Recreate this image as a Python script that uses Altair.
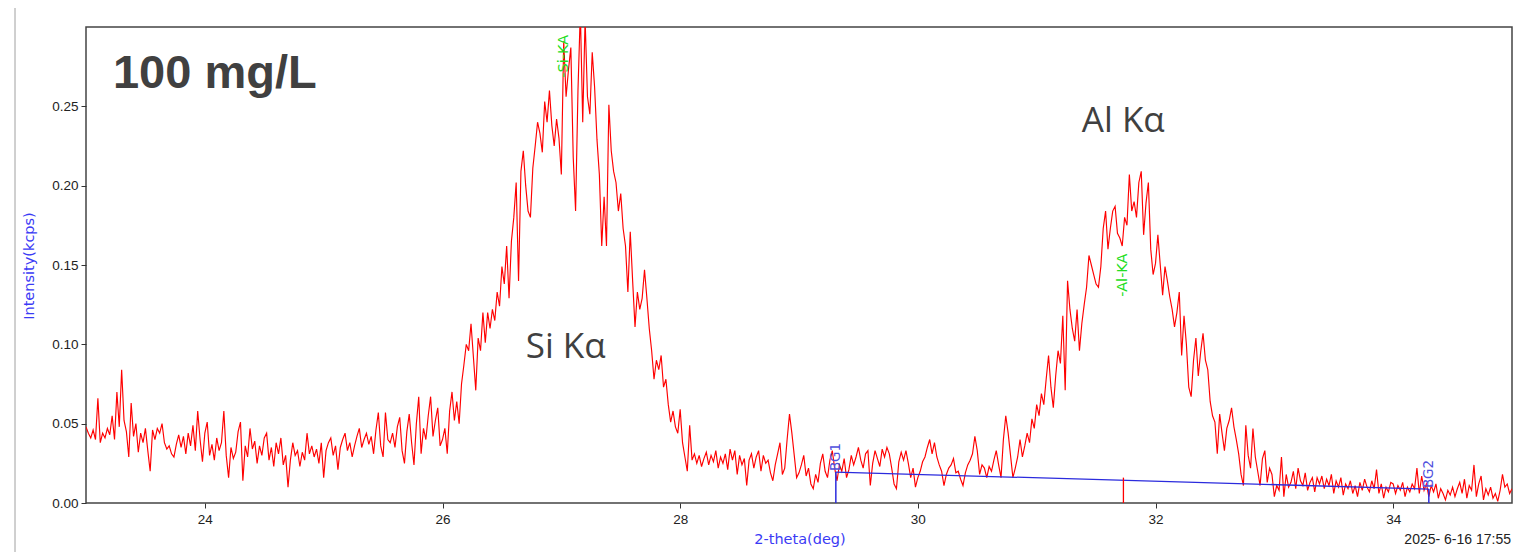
import altair as alt
import numpy as np
import pandas as pd

# XRF scan: 2-theta grid and measured intensity (cps), one row per degree
two_theta_start = 23.0
two_theta_step = 0.02
intensity_cps = [
    48, 44, 41, 46, 40, 66, 38, 44, 41, 47, 43, 55, 40, 70, 48, 84, 52, 45, 29, 63, 42, 50, 32, 44, 38, 47, 33, 20, 46, 40, 47, 44, 50, 38, 34, 36, 31, 29, 37, 43, 35, 42, 31, 44, 36, 49, 33, 58, 40, 26,
    44, 51, 30, 37, 27, 41, 33, 38, 58, 30, 16, 35, 28, 32, 45, 51, 14, 36, 29, 47, 34, 39, 25, 36, 30, 41, 44, 27, 35, 23, 38, 31, 41, 24, 30, 10, 27, 38, 30, 33, 23, 32, 27, 44, 31, 36, 29, 34, 25, 38,
    16, 33, 38, 41, 30, 36, 21, 35, 40, 44, 33, 38, 29, 36, 42, 47, 35, 40, 44, 37, 42, 31, 46, 57, 36, 29, 57, 40, 38, 44, 35, 48, 54, 33, 25, 45, 56, 38, 24, 50, 67, 31, 47, 40, 55, 67, 42, 52, 60, 36,
    40, 47, 31, 58, 70, 52, 64, 50, 75, 87, 100, 96, 113, 92, 71, 104, 96, 120, 101, 120, 110, 122, 115, 133, 124, 149, 138, 162, 129, 165, 180, 202, 140, 209, 222, 200, 184, 180, 211, 225, 240, 233, 221, 253, 240, 260, 238, 225, 242, 230,
    207, 291, 256, 273, 287, 218, 184, 260, 310, 240, 305, 256, 245, 284, 262, 229, 207, 162, 193, 162, 251, 222, 209, 202, 184, 195, 173, 162, 133, 171, 140, 111, 133, 122, 129, 147, 129, 110, 96, 78, 90, 84, 93, 73, 78, 62, 51, 58, 48, 44,
    59, 38, 29, 20, 49, 27, 31, 25, 30, 23, 28, 32, 24, 30, 26, 33, 22, 29, 25, 31, 21, 34, 27, 33, 18, 30, 24, 28, 11, 27, 31, 22, 29, 33, 20, 30, 25, 27, 19, 14, 24, 31, 38, 18, 22, 40, 56, 44, 30, 16,
    19, 24, 30, 17, 22, 12, 9, 18, 13, 25, 31, 20, 16, 27, 33, 22, 14, 24, 20, 28, 16, 21, 30, 24, 29, 35, 27, 22, 31, 33, 11, 25, 33, 28, 23, 34, 29, 35, 31, 22, 12, 9, 26, 32, 27, 33, 25, 16, 22, 10,
    16, 20, 26, 29, 35, 40, 31, 38, 29, 24, 20, 11, 18, 22, 24, 28, 19, 20, 15, 11, 19, 24, 27, 31, 42, 33, 18, 24, 22, 16, 23, 20, 27, 33, 24, 16, 40, 55, 44, 30, 16, 22, 29, 40, 29, 36, 44, 38, 53, 47,
    62, 55, 69, 62, 78, 93, 73, 60, 80, 96, 88, 118, 71, 140, 122, 110, 102, 122, 96, 113, 125, 136, 156, 150, 144, 138, 136, 149, 173, 184, 160, 173, 184, 187, 170, 167, 162, 180, 175, 207, 184, 190, 180, 202, 209, 169, 189, 202, 160, 144,
    151, 169, 150, 131, 149, 140, 130, 122, 111, 120, 133, 93, 118, 100, 73, 67, 90, 104, 80, 95, 107, 90, 84, 64, 55, 51, 31, 56, 44, 33, 47, 52, 60, 48, 40, 31, 18, 11, 49, 30, 22, 47, 29, 20, 11, 28, 33, 13, 22, 18,
    4, 11, 8, 29, 4, 18, 10, 13, 20, 9, 22, 14, 11, 19, 8, 13, 16, 7, 16, 12, 17, 9, 15, 11, 18, 6, 14, 10, 16, 5, 12, 9, 14, 6, 11, 4, 13, 8, 15, 10, 7, 14, 9, 21, 6, 12, 3, 10, 7, 13,
    12, 6, 11, 8, 13, 4, 10, 7, 12, 9, 22, 6, 17, 8, 12, 4, 11, 7, 12, 3, 9, 6, 2, 8, 5, 10, 4, 9, 13, 6, 15, 3, 11, 8, 24, 4, 12, 17, 2, 9, 5, 10, 3, 6, 1, 8, 18, 10, 12, 6,
    9,
]

# background points and line markers
bg_names = ["BG1", "BG2"]
bg_two_theta = [29.31, 34.30]
bg_intensity = [0.0195, 0.0088]

peak_names = ["-Si-KA", "-Al-KA"]
peak_two_theta = [27.025, 31.73]
peak_label_base = [0.268, 0.130]

al_marker_two_theta = 31.73
al_marker_top = 0.016

# annotation texts
sample_label = "100 mg/L"
line_labels = ["Si K\u03b1", "Al K\u03b1"]
line_label_x = [26.70, 31.38]
line_label_y = [0.0914, 0.234]

x_ticks = [24, 26, 28, 30, 32, 34]
y_ticks = [0.00, 0.05, 0.10, 0.15, 0.20, 0.25]

two_theta = np.round(two_theta_start + two_theta_step * np.arange(len(intensity_cps)), 3)
spectrum = pd.DataFrame({"two_theta": two_theta, "intensity": np.array(intensity_cps) / 1000.0})

W, H = 1426, 476
x_scale = alt.Scale(domain=[23, 35], nice=False, zero=False)
y_scale = alt.Scale(domain=[0, 0.30], nice=False, zero=True)

X = alt.X("two_theta:Q", scale=x_scale,
          axis=alt.Axis(values=x_ticks, format="d", title=None))
Y = alt.Y("intensity:Q", scale=y_scale,
          axis=alt.Axis(values=y_ticks, format=".2f", title=None))

line = alt.Chart(spectrum).mark_line(color="#ff0000", strokeWidth=1.15, clip=True).encode(x=X, y=Y)

bg_df = pd.DataFrame({"two_theta": bg_two_theta, "intensity": bg_intensity, "name": bg_names})
bg_line = alt.Chart(bg_df).mark_line(color="#2b2bdd", strokeWidth=1.3).encode(x=X, y=Y)
bg_ticks = alt.Chart(bg_df).mark_rule(color="#2b2bdd", strokeWidth=1.5).encode(
    x="two_theta:Q", y=alt.Y("intensity:Q"), y2=alt.datum(0))
bg_text = alt.Chart(bg_df).mark_text(
    angle=270, align="left", baseline="middle", color="#5050dd",
    font="DejaVu Sans", fontSize=13.5, dx=1).encode(
    x="two_theta:Q", y="intensity:Q", text="name:N")

al_df = pd.DataFrame({"two_theta": [al_marker_two_theta], "top": [al_marker_top]})
al_tick = alt.Chart(al_df).mark_rule(color="#ff0000", strokeWidth=1.3).encode(
    x="two_theta:Q", y=alt.Y("top:Q"), y2=alt.datum(0))

peak_df = pd.DataFrame({"two_theta": peak_two_theta, "intensity": peak_label_base, "name": peak_names})
peak_text = alt.Chart(peak_df).mark_text(
    angle=270, align="left", baseline="middle", color="#22dd22",
    font="DejaVu Sans", fontSize=14.5).encode(
    x="two_theta:Q", y="intensity:Q", text="name:N")

line_df = pd.DataFrame({"two_theta": line_label_x, "intensity": line_label_y, "name": line_labels})
line_text = alt.Chart(line_df).mark_text(
    align="left", baseline="alphabetic", color="#404040",
    font="Open Sans", fontSize=35).encode(
    x="two_theta:Q", y="intensity:Q", text="name:N")

sample_df = pd.DataFrame({"two_theta": [23.227], "intensity": [0.2617], "name": [sample_label]})
sample_text = alt.Chart(sample_df).mark_text(
    align="left", baseline="alphabetic", color="#404040",
    font="Liberation Sans", fontSize=47, fontWeight="bold").encode(
    x="two_theta:Q", y="intensity:Q", text="name:N")

anchor = pd.DataFrame({"k": [0]})
y_title = alt.Chart(anchor).mark_text(
    text="Intensity(kcps)", angle=270, align="center", baseline="middle",
    color="#3b3bf5", font="DejaVu Sans", fontSize=14.5).encode(
    x=alt.value(-56), y=alt.value(239))
x_title = alt.Chart(anchor).mark_text(
    text="2-theta(deg)", align="center", baseline="middle",
    color="#3b3bf5", font="DejaVu Sans", fontSize=14.5).encode(
    x=alt.value(714), y=alt.value(513))
stamp = alt.Chart(anchor).mark_text(
    text="2025- 6-16 17:55", align="right", baseline="middle",
    color="#222222", font="Liberation Sans", fontSize=14).encode(
    x=alt.value(1425), y=alt.value(513))
edge = alt.Chart(anchor).mark_rule(color="#a0a0a0", strokeWidth=1).encode(
    x=alt.value(-71), y=alt.value(-19), y2=alt.value(525))

chart = alt.layer(
    line, bg_line, bg_ticks, al_tick, bg_text, peak_text, line_text, sample_text,
    y_title, x_title, stamp, edge,
).properties(
    width=W, height=H,
    autosize=alt.AutoSizeParams(type="none"),
    padding={"left": 86, "top": 27, "right": 22, "bottom": 49},
    background="white",
).configure_view(
    stroke="#444444", strokeWidth=1.5,
).configure_axis(
    grid=False, domain=False,
    labelFont="Liberation Sans", labelFontSize=13.5, labelColor="#222222",
    tickColor="#333333", tickSize=5, tickWidth=1, labelPadding=3,
).configure_axisX(labelPadding=4)

chart.save("out.html", embed_options={"renderer": "svg", "actions": False})
